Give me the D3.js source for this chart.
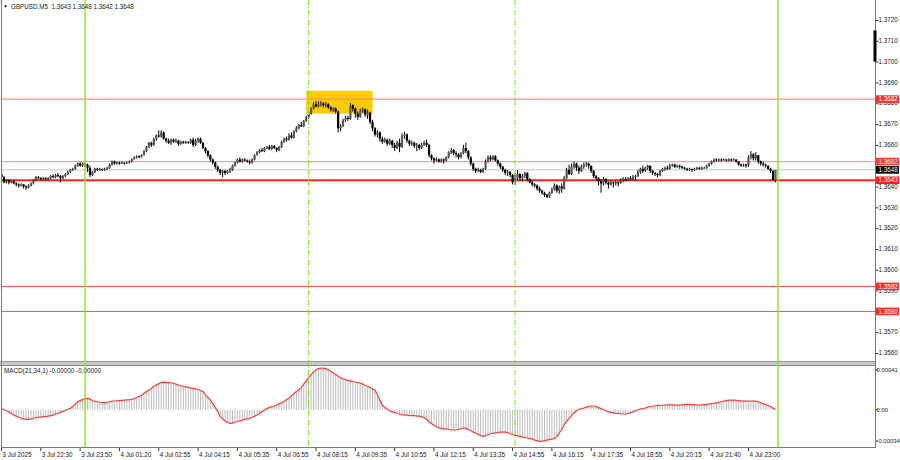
<!DOCTYPE html>
<html><head><meta charset="utf-8">
<script src="https://cdn.jsdelivr.net/npm/d3@7"></script>
<style>
html,body{margin:0;padding:0;background:#fff;}
svg{display:block;font-family:"Liberation Sans",Arial,sans-serif;}
</style></head><body>
<svg id="c" width="900" height="460"></svg>
<script>
// ---------- DATA ----------
const symbol = "GBPUSD,M5";
const lastOHLC = ["1.3643", "1.3648", "1.3642", "1.3648"];
const basePrice = 1.3600;          // pips below are measured above this price
const firstOpen = 46;
const closePips = [
44.5,42,43,42,42.5,41.5,41,40.5,41,40,
39.5,40.5,41.5,43,44.5,44,43.5,44,43.5,44,
45,44.5,45.5,45,44,45,46,47,48,48.5,
50,51,50,51,50.5,49,45.5,47,48.5,48,
48.5,48,48.5,49,50.5,52,51,51.5,51,51.5,
51,51.5,52,53,54,54.5,54,55,57,59,
61,60,63,64.5,64,66,63,62,61,62.5,
61.5,62,60.5,61.5,61,61.5,61,62.5,60,62,
63,61,58.5,57,55,53,51.5,49.5,48,46.5,
47.5,46.5,47.5,48,50,51.5,53,52,53,52.5,
52,51.5,53,55,56.5,57.5,57,58.5,59,58,
59.5,58.5,57.5,59,61.5,63,62.5,64.5,63.5,66.5,
68,69.5,69,71.5,73,75,77.5,79.5,78.5,79.5,
80,79,79.5,78,77,77.5,76,68,69,72,
73,72.5,79,77.5,75,73.5,76.5,77,74.5,75.5,
71,68,65,66,63,61.5,62.5,60.5,62,60,
58.5,61,59,64.5,65,62,60.5,61,59.5,60,
58.5,60,61,60,55,53.5,52.5,53,52,53,
52.5,54,56.5,57.5,56,55.5,54,56,58.5,57,
54,51,48.5,47.5,48,47,48.5,52,54,53,
54.5,52.5,51,49.5,48,46.5,47,45.5,42,44,
46,44,45,46.5,43.5,42,41,40.5,39,38,
37,36,35,37,38.5,40.5,38,40,39,44,
48,46,49.5,51,49,47.5,49.5,50.5,51,50,
47.5,45,44,42.5,41.5,43.5,42,41,42,41.5,
42,41.5,43,43.5,43,44,43.5,44.5,45,47,
48.5,47.5,49,50,47.5,46.5,46,45.5,47.5,48.5,
49,48.5,50,50.5,49.5,50,49.5,49,48.5,48,
48.5,48,48.5,49,48.5,49,49,50,51,52,
53,52.5,53,52.5,53,52.5,53,52.5,53,52,
50.5,50,50.5,50,54,55.5,53.5,55,52,51,
50.5,50,48.5,47.5,43,48];
const highPips = [
48,45,43.5,43.5,43,43,42,41.5,41.5,41,
40.5,41,42,43.5,45,45,44.5,44.5,44.5,44.5,
45.5,46,46,46.5,45.5,45.5,46.5,47.5,48.5,49,
50.5,51.5,51.7,51.5,51.5,51,50,47.5,49,49,
49,48.5,49,49.5,51,52.5,52.5,52,52,52,
51.5,52,52.5,53.5,54.5,55,55,55.5,57.5,59.5,
61.5,61.5,63.5,65,67,67,66.5,63.5,63,63,
63,63,62.5,62,62,62,61.5,63,63.5,63,
63.5,63.5,61.5,59,57.5,55.5,53.5,52,50,48.5,
48,48,48,49,50.5,52,53.5,54,53.5,53.5,
53,53,53.5,55.5,57,58,58.5,59,59.5,60,
60,60,59,59.5,62,63.5,64,65.5,66,67,
69,70,71,72,74,76,78,80.5,81,81,
81,80.5,80.5,80,78.5,78,78,76.5,70,72.5,
74,74,80,79.5,78,76,77.5,78,77.5,77,
76,72,68.5,67,66.5,64,63.5,63,63,62.5,
61,62,63,65.5,66.3,65.5,62.5,62,61.5,61,
60.5,61,62,62.5,60.5,55.5,54,54,53.5,53.5,
53.5,54.5,57,58.5,58,57,56,56.5,60,61,
57.5,54.5,51.5,49,49,48.5,49,53,55,55,
55,55,53,51.5,50,48.5,48,47.5,46,46.5,
48,46.5,46,47,47,44,43,41.5,41,40,
38.5,37.5,36.5,37.5,39.5,41.5,41,40.5,41.6,45,
49,50.5,51,52,51.5,50,50.5,51.5,51.8,51.5,
50,48,45.5,44.5,43.5,44.5,44,42.5,43,42.5,
43,42.5,44,44.5,44.5,44.5,45,45.5,45.5,48,
49,50,49.5,50.5,50,48,47,46.5,48,49,
49.5,50,51,51,51,50.5,50.5,50,49.5,49,
49,48.5,49,49.5,49.5,49.5,49.5,50.5,51.5,52.5,
53.5,53.5,53.5,53.5,53.5,53,53.5,53.5,53.5,53,
52,51,51,51,55,57,56,56.5,55,52.5,
52,51,50,49,48,48];
const lowPips = [
44,41.5,41.5,41,41.5,41,40,39.5,40,39,
38.5,39,40,41,42.5,43.5,43,43,43,43,
43.5,44,44,44.5,42,43.5,44.5,45.5,46.5,47.5,
48,49.5,49.5,49.5,49.5,47,44.5,45,46.5,47.5,
47.5,47.5,47.5,48,48.5,50,50.5,50.5,50.5,51,
50.5,51,51,51.5,53,53.5,53.5,54,55,56.5,
58.5,59,59.5,62,63.5,63.5,62.5,61,60.5,60,
61,61,59.5,60,60.5,60.5,60.5,60.5,59,59.5,
61,60.5,58,56,54,52,50.5,48.5,47,45.5,
44.5,45.5,46,46.5,47.5,49.5,51,51.5,51.5,52,
51.5,50.5,51,52.5,55,56,56.5,56.5,58,57.5,
57.5,58,56.5,57,58.5,61,61.5,62,63,63,
66,67.5,68.5,68.5,71,72.5,74.5,77,78,78,
78.5,78,78,77.5,76,76,75,66,66.5,68.5,
71,71.5,72,76,73,72,73,75.5,73.5,72.5,
70,66.5,64,63.5,61.5,60.5,61,59.5,60,58.5,
57,58,56.5,58.5,63,61,59.5,59.5,58.5,57,
57.5,58,59.5,59,54,52.5,51,52,51.5,51.5,
51,52,53.5,55.5,55,54,53,53.5,55.5,56,
53,50,47.5,46.5,47,46.5,46.5,48,51.5,52,
52.5,52,50,48.5,47,45.5,45,44.5,41,40.7,
43,43,42.5,44,42.5,41.5,40,39.5,38,37,
36,35,34.4,34.5,36.5,38,37,36.5,37,38.5,
43.5,45.5,45.5,48.5,47.5,46,47,48.5,49.5,48.5,
46.5,44,43,40.5,37,40.5,41,39,40.5,39.5,
40.5,40,41.5,42,42.5,42.5,42.5,43,43,44.5,
46,46.5,47,48,46.5,45.5,45,44.5,45,47,
47.5,48,48,49.5,49,49,48.5,48.5,48,47.5,
47.5,47,47.5,48,48,48,48.5,48.5,49.5,50.5,
51.5,52,52,52,52.5,52,52,52,52.5,51.5,
50,49.5,49.5,49,49.5,53,52.5,52.5,51,50,
49.5,49,48,46.5,43,42];
// MACD(21,34,1) main value per bar, in units of 0.00001
const macdVals = [
1,0,-1,-2,-3.5,-5,-6,-7,-8,-8.5,
-9,-9,-8.5,-8,-7.5,-7,-7,-6.5,-6.5,-6,
-5.5,-5,-4,-3.5,-2.5,-1.5,-0.5,0.5,1.3,3,
5,7.5,8.5,9.5,10.5,10.7,10,8.4,8,7.5,
7,6.8,6.6,7,7.5,8,8.2,8.4,8.6,8.8,
9,9.2,9.4,9.7,10.5,11.5,12.5,13.5,15.4,17,
18.5,20,22,23.5,24.5,25.7,25.8,25.6,25.5,25.3,
24.8,24,23.2,22.5,22,21.5,21,20.5,20,19.5,
19,18,17,14,11.5,9,6,2,-1.5,-6.5,
-8.5,-10.5,-12,-12.7,-12.5,-11.5,-11,-10.3,-9.8,-9,
-8.5,-8,-7,-6,-5,-3.5,-2,-0.5,1.3,2,
3,3.5,4.4,5.5,6.5,8,9.7,11,13,15,
17,18.5,21,24,27,30,33,35.5,37.5,38.5,
39,39,38.5,37.5,36,34.5,33,31.5,30,29,
28,27.5,27,26.5,26,25.5,25,24,23,22,
21,19.5,18.5,14,9,4.4,2,0.5,-1,-2,
-2.5,-3.5,-4,-4.5,-5,-5,-5.5,-5.5,-5.5,-6,
-6,-6.5,-7.5,-9,-11.5,-13,-14.5,-16,-17,-17.5,
-18,-18,-18.5,-19,-19,-19,-18.5,-18,-17,-17.5,
-18.5,-19.5,-21,-22,-23,-24,-25,-24.5,-23.5,-22.5,
-22,-22,-21.5,-21,-21,-21,-21.5,-22.5,-23.5,-24,
-24.5,-25,-25.5,-26,-26.5,-27,-27.5,-28.5,-29,-29.7,
-29.5,-29,-28.5,-28,-27.5,-27,-25,-22,-18.5,-14,
-11,-8,-5.5,-3,-1,0.5,1,1.6,2.5,3,
3.5,3.5,3,2,1,0,-1,-2,-2.5,-3,
-3.5,-3.5,-4,-4,-4,-3.5,-3,-2,-1,0,
0.5,1,1.6,2.5,3,3.5,3.5,4,4,4.2,
4.4,4.5,4.5,4.5,4.4,4.4,4.4,4.5,4.8,5,
5,4.8,4.6,4.5,4.4,4.5,4.8,5,5.5,5.8,
6,6.5,7,7.5,8,8.5,9,9,9,8.8,
8.5,8.3,8,8,8,8,8.2,8,7.5,6.5,
5.5,5,4,3,1.5,0.5];
const timeLabels = ["3 Jul 2025","3 Jul 22:30","3 Jul 23:50","4 Jul 01:20","4 Jul 02:55","4 Jul 04:15",
  "4 Jul 05:35","4 Jul 06:55","4 Jul 08:15","4 Jul 09:35","4 Jul 10:55","4 Jul 12:15","4 Jul 13:35",
  "4 Jul 14:55","4 Jul 16:15","4 Jul 17:35","4 Jul 18:55","4 Jul 20:15","4 Jul 21:40","4 Jul 23:00"];
const timeLabelBars = [0,16,32,48,64,80,96,112,128,144,160,176,192,208,224,240,256,272,288,304];
const priceTicks = [1.3560,1.3570,1.3580,1.3590,1.3600,1.3610,1.3620,1.3630,1.3640,1.3650,
  1.3660,1.3670,1.3680,1.3690,1.3700,1.3710,1.3720];
const hiddenTickLabels = [1.3580, 1.3650];   // covered by level labels in the original
const levelPrices = [1.3682, 1.3652, 1.3643, 1.3592, 1.3580];
const bidPrice = 1.3648;
const macdTickValues = [0.00041, 0, -0.00034];
const macdTickLabels = ["0.00041", "0.00", "-0.00034"];
const macdTitle = "MACD(21,34,1) -0.00000 -0.00000";
const sessionLineBars = [34, 125, 209, 316];
const sessionLineSolid = [true, false, false, true];
const zoneBars = [124, 151];
const zonePrices = [1.3686, 1.3675];
const scaleMarkPrices = [1.3715, 1.3700];

// ---------- LAYOUT ----------
const W = 900, H = 460;
const plotL = 1, plotR = 875;
const mainTop = 0, mainBot = 361;
const macdTop = 366, macdBot = 447;
const svg = d3.select("#c");
const FONT = 6.3;

const x = d3.scaleLinear().domain([0, 355.5]).range([1.5, plotR]);
const y = d3.scaleLinear().domain([1.3560, 1.3720]).range([353, 20]);
const ym = d3.scaleLinear().domain([-0.00034, 0.00041]).range([446, 366]);
const pip = v => basePrice + v / 10000;

svg.append("rect").attr("width", W).attr("height", H).attr("fill", "#fff");
svg.append("defs").append("clipPath").attr("id", "mainClip")
  .append("rect").attr("x", plotL).attr("y", mainTop).attr("width", plotR - plotL).attr("height", mainBot - mainTop);
svg.select("defs").append("clipPath").attr("id", "macdClip")
  .append("rect").attr("x", plotL).attr("y", macdTop).attr("width", plotR - plotL).attr("height", macdBot - macdTop);

const main = svg.append("g").attr("clip-path", "url(#mainClip)");

// yellow zone
main.append("rect")
  .attr("x", x(zoneBars[0])).attr("width", x(zoneBars[1]) - x(zoneBars[0]))
  .attr("y", y(zonePrices[0])).attr("height", y(zonePrices[1]) - y(zonePrices[0]))
  .attr("fill", "#ffcc00");

// bid line
main.append("line").attr("x1", plotL).attr("x2", plotR)
  .attr("y1", y(bidPrice)).attr("y2", y(bidPrice)).attr("stroke", "#c4c4c4").attr("stroke-width", 1);

// horizontal levels
const levelStroke = ["#ff8c8c", "#ff9a9a", "#ff2020", "#f04848", "#f04848"];
const levelWidth = [1.3, 1.3, 1.8, 1, 1];
main.selectAll("line.lvl").data(levelPrices).join("line").attr("class", "lvl")
  .attr("x1", plotL).attr("x2", plotR)
  .attr("y1", d => y(d)).attr("y2", d => y(d))
  .attr("stroke", (d, i) => levelStroke[i]).attr("stroke-width", (d, i) => levelWidth[i]);

// candles
const bars = closePips.map((c, i) => ({
  i, o: i === 0 ? firstOpen : closePips[i - 1], h: highPips[i], l: lowPips[i], c
}));
const cg = main.append("g");
cg.selectAll("line").data(bars).join("line")
  .attr("x1", d => x(d.i)).attr("x2", d => x(d.i))
  .attr("y1", d => y(pip(d.h))).attr("y2", d => y(pip(d.l)))
  .attr("stroke", "#000").attr("stroke-width", 1);
cg.selectAll("rect").data(bars).join("rect")
  .attr("x", d => x(d.i) - 1.1).attr("width", 2.2)
  .attr("y", d => y(pip(Math.max(d.o, d.c))))
  .attr("height", d => Math.max(0.9, Math.abs(y(pip(d.o)) - y(pip(d.c)))))
  .attr("fill", d => d.c >= d.o ? "#585858" : "#000");

// ---------- MACD ----------
const mg = svg.append("g").attr("clip-path", "url(#macdClip)");
mg.selectAll("line").data(macdVals).join("line")
  .attr("x1", (d, i) => x(i)).attr("x2", (d, i) => x(i))
  .attr("y1", ym(0)).attr("y2", d => ym(d * 1e-5))
  .attr("stroke", "#bcbcbc").attr("stroke-width", 1);
mg.append("path").datum(macdVals)
  .attr("d", d3.line().x((d, i) => x(i)).y(d => ym(d * 1e-5)))
  .attr("fill", "none").attr("stroke", "#ff3a3a").attr("stroke-width", 1.2);

svg.append("text").attr("x", 4).attr("y", 373).attr("font-size", FONT).attr("fill", "#222").text(macdTitle);

// separator between windows
svg.append("rect").attr("x", 0).attr("y", mainBot).attr("width", plotR + 1).attr("height", macdTop - mainBot)
  .attr("fill", "#c9c9c9");
svg.append("line").attr("x1", 0).attr("x2", plotR + 1).attr("y1", macdTop - 0.5).attr("y2", macdTop - 0.5)
  .attr("stroke", "#8a8a8a");
svg.append("line").attr("x1", 0).attr("x2", plotR + 1).attr("y1", mainBot + 0.5).attr("y2", mainBot + 0.5)
  .attr("stroke", "#9a9a9a");

// session lines
svg.selectAll("line.sess").data(sessionLineBars).join("line").attr("class", "sess")
  .attr("x1", d => x(d)).attr("x2", d => x(d))
  .attr("y1", 0).attr("y2", macdBot)
  .attr("stroke", "#7ff000")
  .attr("stroke-width", (d, i) => sessionLineSolid[i] ? 1.4 : 1)
  .attr("stroke-dasharray", (d, i) => sessionLineSolid[i] ? null : "5,2,1,2");

// frame
svg.append("line").attr("x1", 1.5).attr("x2", 1.5).attr("y1", 0).attr("y2", macdBot).attr("stroke", "#7a7a7a");
svg.append("line").attr("x1", plotR + 0.5).attr("x2", plotR + 0.5).attr("y1", 0).attr("y2", macdBot + 1).attr("stroke", "#7a7a7a");
svg.append("line").attr("x1", 1).attr("x2", plotR + 1).attr("y1", macdBot + 0.5).attr("y2", macdBot + 0.5).attr("stroke", "#7a7a7a");

// scale mark on price axis
svg.append("rect").attr("x", plotR - 1.5).attr("width", 3)
  .attr("y", y(scaleMarkPrices[0])).attr("height", y(scaleMarkPrices[1]) - y(scaleMarkPrices[0]))
  .attr("fill", "#000");

// price axis
const pa = svg.append("g");
pa.selectAll("line").data(priceTicks).join("line")
  .attr("x1", plotR + 1).attr("x2", plotR + 3.5).attr("y1", d => y(d) + 0.5).attr("y2", d => y(d) + 0.5)
  .attr("stroke", "#333");
pa.selectAll("text").data(priceTicks.filter(t => !hiddenTickLabels.some(h => Math.abs(h - t) < 1e-6))).join("text")
  .attr("x", plotR + 3.5).attr("y", d => y(d) + 2.2).attr("font-size", FONT).attr("fill", "#222")
  .text(d => d.toFixed(4));

// level labels
const boxFill = ["#ff2a2a", "#ff3a3a", "#ff1a1a", "#ff2a2a", "#ff2a2a"];
const lg = svg.append("g");
lg.selectAll("rect").data(levelPrices).join("rect")
  .attr("x", plotR + 1).attr("width", 23).attr("y", d => y(d) - 3.8).attr("height", 7.6)
  .attr("fill", (d, i) => boxFill[i]);
lg.selectAll("text").data(levelPrices).join("text")
  .attr("x", plotR + 3.5).attr("y", d => y(d) + 2.2).attr("font-size", FONT).attr("fill", "#fff")
  .text(d => d.toFixed(4));
svg.append("rect").attr("x", plotR + 1).attr("width", 23).attr("y", y(bidPrice) - 3.8).attr("height", 7.6).attr("fill", "#000");
svg.append("text").attr("x", plotR + 3.5).attr("y", y(bidPrice) + 2.2).attr("font-size", FONT).attr("fill", "#fff")
  .text(bidPrice.toFixed(4));

// MACD axis
const macdLabelY = [370, ym(0), 441];
const ma = svg.append("g");
ma.selectAll("line").data(macdTickValues).join("line")
  .attr("x1", plotR + 1).attr("x2", plotR + 3)
  .attr("y1", (d, i) => macdLabelY[i]).attr("y2", (d, i) => macdLabelY[i])
  .attr("stroke", "#333");
ma.selectAll("text").data(macdTickLabels).join("text")
  .attr("x", plotR + 1.5).attr("y", (d, i) => macdLabelY[i] + 2.1)
  .attr("font-size", 5.9).attr("fill", "#222").text(d => d);

// time axis
const ta = svg.append("g");
ta.selectAll("line").data(timeLabelBars).join("line")
  .attr("x1", d => x(d)).attr("x2", d => x(d)).attr("y1", macdBot + 1).attr("y2", macdBot + 4)
  .attr("stroke", "#333");
ta.selectAll("text").data(timeLabels).join("text")
  .attr("x", (d, i) => x(timeLabelBars[i]) + 1).attr("y", 456.5)
  .attr("font-size", FONT).attr("fill", "#222").text(d => d);

// title
svg.append("text").attr("x", 3).attr("y", 8).attr("font-size", 5).attr("fill", "#222").text("\u25BC");
svg.append("text").attr("x", 11).attr("y", 8.5).attr("font-size", FONT).attr("fill", "#222")
  .attr("xml:space", "preserve")
  .text(symbol + "  " + lastOHLC.join(" "));
</script>
</body></html>
